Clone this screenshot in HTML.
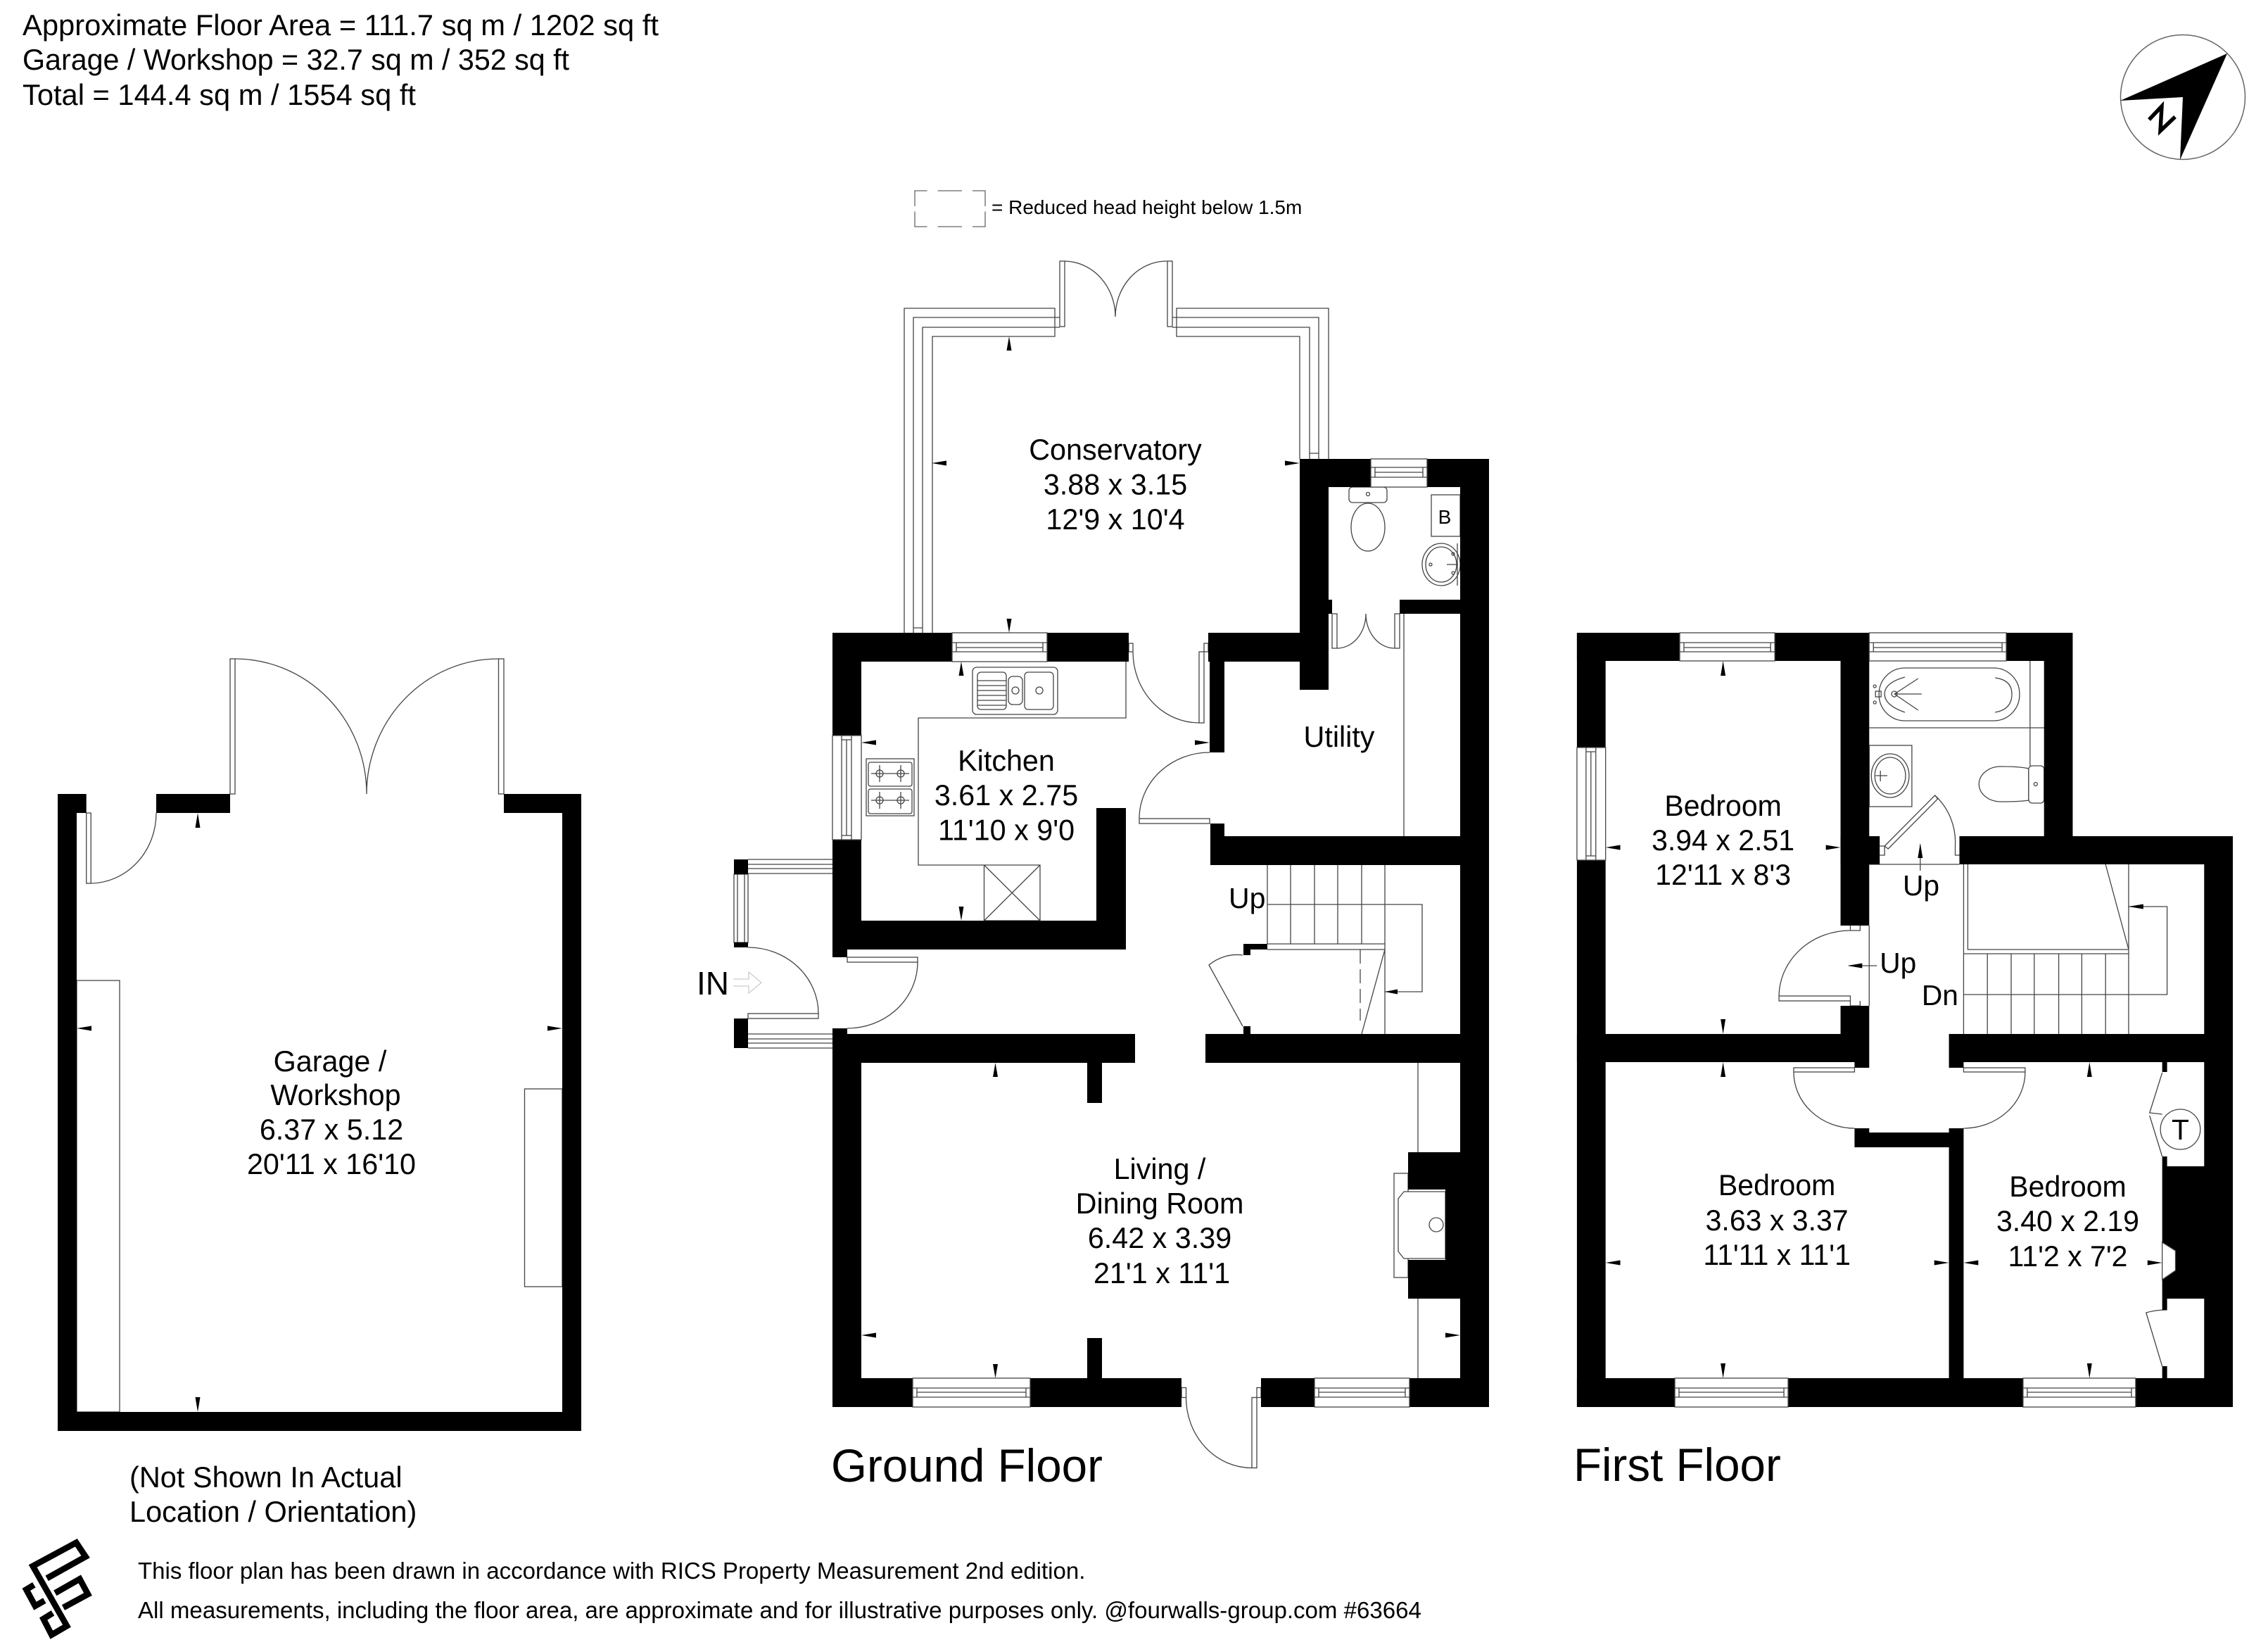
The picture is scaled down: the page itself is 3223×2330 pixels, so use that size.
<!DOCTYPE html>
<html><head><meta charset="utf-8"><style>
html,body{margin:0;padding:0;background:#fff}
svg{display:block}
text{font-family:"Liberation Sans",sans-serif;fill:#000}
.l{fill:none;stroke:#444;stroke-width:1.3}
.w{fill:#fff;stroke:#444;stroke-width:1.3}
.m{text-anchor:middle;font-size:41.3px}
.t{font-size:41.5px}
</style></head><body>
<svg xmlns="http://www.w3.org/2000/svg" width="3223" height="2330" viewBox="0 0 3223 2330">
<rect width="3223" height="2330" fill="#fff"/>

<!-- header -->
<text class="t" x="32" y="50" textLength="904" lengthAdjust="spacingAndGlyphs">Approximate Floor Area = 111.7 sq m / 1202 sq ft</text>
<text class="t" x="32" y="99" textLength="777" lengthAdjust="spacingAndGlyphs">Garage / Workshop = 32.7 sq m / 352 sq ft</text>
<text class="t" x="32" y="149" textLength="559" lengthAdjust="spacingAndGlyphs">Total = 144.4 sq m / 1554 sq ft</text>

<!-- compass -->
<circle cx="3102" cy="138" r="88.5" fill="none" stroke="#666" stroke-width="1.5"/>
<polygon points="3165,76 3013,143 3102,138 3098,227" fill="#000"/>
<polyline points="3054,170 3072,151 3070,186 3091,166" fill="none" stroke="#000" stroke-width="5.5"/>

<!-- legend -->
<path class="l" style="stroke:#666" d="M1300,293V271H1317.5M1332.6,271H1367M1382,271H1400V293M1400,300.5V322H1382M1367,322H1332.6M1317.5,322H1300V300.5"/>
<text x="1409" y="304" font-size="28">= Reduced head height below 1.5m</text>

<!-- conservatory frame -->
<path class="l" d="M1285,900V438H1499V478H1325V900M1298,900V451H1499M1311,900V465H1499
M1298,892H1311M1888,652V438H1672V478H1847V652M1874,652V451H1672M1861,652V465H1672M1861,644H1874
M1499,451V465M1672,451V465"/>
<rect class="w" x="1506" y="371" width="7" height="93"/>
<rect class="w" x="1659" y="371" width="7" height="93"/>
<path class="l" d="M1499,451H1506M1499,465H1506M1666,451H1672M1666,465H1672M1513,371A73,79 0 0 1 1585,450A73,79 0 0 1 1659,371"/>

<!-- kitchen fixtures -->
<path class="l" d="M1600,940V1020H1305V1229H1478M1398.5,1229H1478V1308H1398.5ZM1398.5,1229L1478,1308M1478,1229L1398.5,1308"/>
<rect class="l" x="1382" y="948" width="121" height="67" rx="6"/>
<rect class="l" x="1389" y="955" width="41" height="53" rx="5"/>
<rect class="l" x="1433" y="961" width="20" height="40" rx="6"/>
<rect class="l" x="1456" y="955" width="41" height="53" rx="5"/>
<path class="l" d="M1389,967H1430M1389,974H1430M1389,981H1430M1389,988H1430M1389,995H1430M1389,1002H1430"/>
<circle class="l" cx="1443" cy="981" r="5"/><circle class="l" cx="1477" cy="981" r="5"/>
<rect class="l" x="1231" y="1078" width="68" height="81"/>
<rect class="l" x="1234" y="1083" width="62" height="34" rx="3"/>
<rect class="l" x="1234" y="1121" width="62" height="35" rx="3"/>
<circle class="l" cx="1250" cy="1099" r="5"/><circle class="l" cx="1280" cy="1099" r="5"/>
<circle class="l" cx="1250" cy="1137" r="5"/><circle class="l" cx="1280" cy="1137" r="5"/>
<path class="l" d="M1238,1099H1292M1250,1087V1111M1280,1087V1111M1238,1137H1292M1250,1125V1149M1280,1125V1149"/>

<!-- conservatory/kitchen door -->
<rect class="w" x="1604" y="914" width="6" height="12"/>
<rect class="w" x="1711" y="914" width="6" height="12"/>
<rect class="w" x="1704" y="926" width="7" height="101"/>
<path class="l" d="M1610,926A94,101 0 0 0 1704,1027"/>
<!-- utility door -->
<rect class="w" x="1619" y="1163" width="100" height="7"/>
<path class="l" d="M1619,1163A100,94 0 0 1 1719,1069"/>
<!-- WC door -->
<rect class="w" x="1893" y="872" width="7" height="49"/>
<rect class="w" x="1982" y="872" width="7" height="49"/>
<path class="l" d="M1900,921A41,49 0 0 0 1941,872A41,49 0 0 0 1982,921M1995,872V1188"/>
<!-- WC fixtures -->
<rect class="l" x="1917" y="692" width="54" height="22" rx="5"/>
<ellipse class="l" cx="1944" cy="749" rx="24" ry="34"/>
<circle class="l" cx="1944" cy="702" r="2.5"/>
<rect class="l" x="2034" y="703" width="41" height="59"/>
<text x="2053" y="744" font-size="28" text-anchor="middle">B</text>
<ellipse class="l" cx="2048" cy="802" rx="27" ry="30"/>
<ellipse class="l" cx="2048" cy="802" rx="22" ry="25"/>
<circle class="l" cx="2065" cy="787" r="2"/><circle class="l" cx="2065" cy="814" r="2"/><circle class="l" cx="2033" cy="802" r="2"/>
<path class="l" d="M2056,802H2072M2071,772V832"/>

<!-- porch -->
<path class="l" d="M1063,1221H1183M1063,1241H1183M1063,1228H1183M1063,1234H1183M1063,1469H1183M1063,1489H1183M1063,1476H1183M1063,1482H1183"/>
<rect class="w" x="1043" y="1242" width="20" height="97"/>
<path class="l" d="M1048,1242V1339M1058,1242V1339"/>
<rect class="w" x="1063" y="1440" width="100" height="7"/>
<path class="l" d="M1063,1346A100,94 0 0 1 1163,1440"/>
<rect class="w" x="1204" y="1360" width="100" height="7"/>
<path class="l" d="M1304,1367A100,94 0 0 1 1204,1461"/>
<path d="M1042,1391H1064V1381L1082,1396L1064,1411V1401H1042" fill="none" stroke="#ccc" stroke-width="1.3"/>
<text x="990" y="1413" font-size="46">IN</text>

<!-- ground stairs -->
<path class="l" d="M1801,1228V1341M1834,1228V1341M1868,1228V1341M1901,1228V1341M1935,1228V1341M1968,1228V1469
M1801,1285H2021V1409H1968M1801,1341H1968M1801,1349H1968M1968,1349L1935,1469"/>
<path class="l" d="M1933,1349V1450" stroke-dasharray="20 8"/>
<path class="l" d="M1766,1357A62,62 0 0 0 1718,1371L1766,1458"/>

<!-- living fixtures -->
<path class="l" d="M2015,1510V1637M2015,1845V1958"/>
<rect class="w" x="1981" y="1667" width="20" height="148"/>
<path class="w" d="M2054,1693H1995L1987,1703V1778L1995,1788H2054Z"/>
<ellipse class="l" cx="2041" cy="1740" rx="10" ry="10"/>
<!-- front door -->
<rect class="w" x="1679" y="1971.5" width="6.5" height="14"/>
<rect class="w" x="1786" y="1971.5" width="6" height="14"/>
<rect class="w" x="1779" y="1985.5" width="7" height="100"/>
<path class="l" d="M1685.5,1985.5A93.5,100 0 0 0 1779,2085.5"/>

<!-- garage fixtures -->
<rect class="l" x="109" y="1393" width="61" height="613"/>
<rect class="l" x="745.5" y="1547" width="53.5" height="281"/>
<rect class="w" x="122.7" y="1155" width="6.5" height="100"/>
<path class="l" d="M129,1255A94,100 0 0 0 222,1155"/>
<rect class="w" x="327" y="936" width="7" height="192"/>
<rect class="w" x="708.5" y="936" width="7.5" height="192"/>
<path class="l" d="M334,936A187,192 0 0 1 521,1128A187,192 0 0 1 708.5,936"/>

<!-- ground + garage walls -->
<g fill="#000">
<rect x="82" y="1128" width="40.7" height="27"/><rect x="222" y="1128" width="105" height="27"/><rect x="716" y="1128" width="110" height="27"/>
<rect x="82" y="1128" width="27" height="905"/><rect x="799" y="1128" width="27" height="905"/><rect x="82" y="2006" width="744" height="27"/>

<rect x="1183" y="899" width="421" height="41"/><rect x="1183" y="899" width="41" height="450"/><rect x="1183" y="1308" width="417" height="41"/><rect x="1183" y="1349" width="21" height="11"/>
<rect x="1558" y="1148" width="42" height="160"/><rect x="1717" y="899" width="171" height="41"/><rect x="1719" y="940" width="21" height="129"/>
<rect x="1847" y="652" width="41" height="328"/><rect x="1847" y="652" width="269" height="40"/><rect x="1847" y="852" width="46" height="20"/><rect x="1989" y="852" width="127" height="20"/>
<rect x="2075" y="652" width="41" height="1347"/><rect x="1720" y="1188" width="396" height="41"/><rect x="1720" y="1170" width="20" height="18"/>
<rect x="1183" y="1469" width="430" height="41"/><rect x="1713" y="1469" width="403" height="41"/><rect x="1183" y="1461" width="21" height="8"/>
<rect x="1183" y="1510" width="41" height="489"/><rect x="1183" y="1958" width="496" height="41"/><rect x="1792" y="1958" width="324" height="41"/>
<rect x="1545" y="1510" width="21" height="57"/><rect x="1545" y="1901" width="21" height="57"/>
<rect x="2001" y="1637" width="115" height="53"/><rect x="2054" y="1690" width="62" height="100"/><rect x="2001" y="1790" width="115" height="55"/>
<rect x="1043" y="1221" width="20" height="21"/><rect x="1043" y="1339" width="20" height="7"/><rect x="1043" y="1447" width="20" height="42"/>
<rect x="1767" y="1341" width="34" height="8"/><rect x="1767" y="1349" width="10" height="8"/><rect x="1767" y="1458" width="10" height="11"/>
</g>

<!-- ground windows -->
<rect class="w" x="1353" y="899" width="135" height="41"/><path class="l" d="M1353,913H1488M1353,926H1488M1359,920H1482M1359,913V926M1482,913V926"/>
<rect class="w" x="1948" y="652" width="80" height="40"/><path class="l" d="M1948,664H2028M1948,678H2028M1954,671H2022M1954,664V678M2022,664V678"/>
<rect class="w" x="1297" y="1958" width="167" height="41"/><path class="l" d="M1297,1972H1464M1297,1985H1464M1303,1978H1458M1303,1972V1985M1458,1972V1985"/>
<rect class="w" x="1868" y="1958" width="135" height="41"/><path class="l" d="M1868,1972H2003M1868,1985H2003M1874,1978H1997M1874,1972V1985M1997,1972V1985"/>
<rect class="w" x="1183" y="1045" width="41" height="148"/><path class="l" d="M1196,1045V1193M1210,1045V1193M1203,1051V1187M1196,1051H1210M1196,1187H1210"/>

<!-- ground + garage arrowheads -->
<path fill="#000" d="
M281,1155l3.5,21h-7zM281,2006l3.5,-21h-7zM109,1461l21,-3.5v7zM799,1461l-21,-3.5v7z
M1434,478l3.5,20h-7zM1434,899l3.5,-20h-7zM1324,658l21,-3.5v7zM1847,658l-21,-3.5v7z
M1366,940l3.5,20h-7zM1366,1308l3.5,-20h-7zM1224,1055l21,-3.5v7zM1719,1055l-21,-3.5v7z
M1414.5,1510l3.5,20h-7zM1414.5,1958l3.5,-20h-7zM1224,1897l21,-3.5v7zM2075,1897l-21,-3.5v7z
M1968,1409l18,-3.5v7z"/>

<!-- ground + garage labels -->
<text class="m" x="1585" y="653">Conservatory</text>
<text class="m" x="1585" y="702.5">3.88 x 3.15</text>
<text class="m" x="1585" y="752">12'9 x 10'4</text>
<text class="m" x="1430" y="1095">Kitchen</text>
<text class="m" x="1430" y="1144">3.61 x 2.75</text>
<text class="m" x="1430" y="1193.5">11'10 x 9'0</text>
<text class="m" x="1903" y="1061">Utility</text>
<text class="m" x="1648" y="1675">Living /</text>
<text class="m" x="1648" y="1724">Dining Room</text>
<text class="m" x="1648" y="1773">6.42 x 3.39</text>
<text class="m" x="1651" y="1823">21'1 x 11'1</text>
<text x="1746" y="1290" font-size="41">Up</text>
<text class="m" x="469" y="1522">Garage /</text>
<text class="m" x="477" y="1570">Workshop</text>
<text class="m" x="471" y="1619">6.37 x 5.12</text>
<text class="m" x="471" y="1668">20'11 x 16'10</text>
<text x="184" y="2113" font-size="41.5">(Not Shown In Actual</text>
<text x="184" y="2162" font-size="41.5">Location / Orientation)</text>
<text x="1181" y="2105" font-size="65.5">Ground Floor</text>
<text x="2236" y="2104" font-size="65.5">First Floor</text>

<!-- FIRST FLOOR -->
<g transform="translate(2230,0) scale(.9937,1) translate(-2230,0)">
<rect class="l" x="2673" y="949" width="201" height="75" rx="37"/>
<path class="l" d="M2839,963Q2863,966 2863,986Q2863,1008 2839,1012M2710,962Q2681,970 2681,986Q2681,1002 2710,1012M2695,986H2734M2695,986L2729,964M2695,986L2729,1009M2659,1034H2909M2889,939V1088"/>
<circle class="l" cx="2695" cy="986" r="4"/><circle class="l" cx="2667" cy="975" r="2"/><circle class="l" cx="2667" cy="998" r="2"/>
<rect class="l" x="2668" y="982" width="8" height="8"/>
<rect class="l" x="2659" y="1059" width="61" height="87"/>
<ellipse class="l" cx="2689" cy="1102" rx="27" ry="31"/>
<ellipse class="l" cx="2689" cy="1102" rx="22" ry="26"/>
<path class="l" d="M2668,1102H2685M2675,1095V1110"/>
<rect class="l" x="2887" y="1088" width="22" height="53" rx="5"/>
<path class="l" d="M2887,1092V1137Q2875,1139 2847,1139A31,25 0 0 1 2847,1089Q2875,1089 2887,1092"/>
<circle class="l" cx="2897" cy="1114" r="2.5"/>
<path class="l" d="M2674,1202H2681V1215H2674M2782,1201V1215H2788M2753,1130A90,90 0 0 1 2782,1201"/>
<path class="w" d="M2753,1130L2757,1135L2686,1206L2681,1202Z"/>
<path class="l" d="M2659,1228H2788M2659,1315V1429"/>
<rect class="w" x="2530" y="1415" width="102" height="7"/>
<path class="l" d="M2632,1315V1322H2646V1315M2632,1422V1429H2646V1422M2530,1415A102,94 0 0 1 2632,1322"/>
<path class="l" d="M2794,1228V1469M2800,1228V1349H3030M2794,1355H3030M2828,1355V1469M2862,1355V1469M2895,1355V1469M2930,1355V1469M2963,1355V1469M2997,1355V1469M3030,1228V1469
M2997,1228L3030,1349M2794,1413H3085V1288H3030M2732,1237V1200M2670,1372H2630"/>
<rect class="w" x="2551" y="1517" width="87" height="6"/>
<rect class="w" x="2794" y="1517" width="88" height="6"/>
<path class="l" d="M2551,1523A87,80 0 0 0 2638,1603M2882,1523A88,80 0 0 1 2794,1603"/>
<path class="l" d="M3078,1524L3060,1581L3078,1583M3060,1585L3078,1643M3085,1861Q3068,1861 3055,1865L3078,1941"/>
<circle class="l" cx="3104" cy="1604.5" r="28.5"/>
<text x="3104" y="1619" font-size="41" text-anchor="middle">T</text>

<g fill="#000">
<rect x="2241" y="899" width="709" height="40"/><rect x="2241" y="899" width="41" height="1100"/><rect x="2618" y="939" width="41" height="376"/><rect x="2618" y="1188" width="56" height="40"/>
<rect x="2909" y="939" width="41" height="249"/><rect x="2788" y="1188" width="391" height="40"/><rect x="3138" y="1188" width="41" height="469"/><rect x="3138" y="1845" width="41" height="154"/>
<rect x="3078" y="1657" width="101" height="188"/>
<rect x="2618" y="1429" width="41" height="40"/><rect x="2241" y="1469" width="418" height="40"/><rect x="2773" y="1469" width="406" height="40"/>
<rect x="2638" y="1509" width="21" height="8"/><rect x="2773" y="1509" width="21" height="8"/><rect x="2638" y="1603" width="21" height="6"/><rect x="2773" y="1603" width="21" height="6"/>
<rect x="2638" y="1609" width="156" height="21"/><rect x="2773" y="1630" width="21" height="328"/><rect x="2241" y="1958" width="938" height="41"/>
<rect x="3078" y="1509" width="7" height="14"/><rect x="3078" y="1643" width="7" height="14"/><rect x="3078" y="1845" width="7" height="16"/><rect x="3078" y="1941" width="7" height="17"/>
</g>
<polygon class="w" points="3078,1765 3097,1777 3097,1805 3078,1818"/>

<rect class="w" x="2388" y="899" width="136" height="40"/><path class="l" d="M2388,913H2524M2388,926H2524M2394,920H2518M2394,913V926M2518,913V926"/>
<rect class="w" x="2659" y="899" width="196" height="40"/><path class="l" d="M2659,913H2855M2659,926H2855M2665,920H2849M2665,913V926M2849,913V926"/>
<rect class="w" x="2241" y="1062" width="41" height="160"/><path class="l" d="M2254,1062V1222M2268,1062V1222M2261,1068V1216M2254,1068H2268M2254,1216H2268"/>
<rect class="w" x="2381" y="1958" width="162" height="41"/><path class="l" d="M2381,1972H2543M2381,1985H2543M2387,1978H2537M2387,1972V1985M2537,1972V1985"/>
<rect class="w" x="2879" y="1958" width="161" height="41"/><path class="l" d="M2879,1972H3040M2879,1985H3040M2885,1978H3034M2885,1972V1985M3034,1972V1985"/>

<path fill="#000" d="
M2450,939l3.5,21h-7zM2450,1469l3.5,-21h-7zM2282,1204l21,-3.5v7zM2618,1204l-21,-3.5v7z
M2450,1509l3.5,21h-7zM2450,1958l3.5,-21h-7zM2282,1794l21,-3.5v7zM2773,1794l-21,-3.5v7z
M2974,1509l3.5,21h-7zM2974,1958l3.5,-21h-7zM2794,1794l21,-3.5v7zM3078,1794l-21,-3.5v7z
M2732,1198l3.5,21h-7zM2628,1372l21,-3.5v7zM3030,1288l21,-3.5v7z"/>

<text class="m" x="2450" y="1159">Bedroom</text>
<text class="m" x="2450" y="1208">3.94 x 2.51</text>
<text class="m" x="2450" y="1257">12'11 x 8'3</text>
<text class="m" x="2527" y="1698">Bedroom</text>
<text class="m" x="2527" y="1748">3.63 x 3.37</text>
<text class="m" x="2527" y="1797">11'11 x 11'1</text>
<text class="m" x="2943" y="1700">Bedroom</text>
<text class="m" x="2943" y="1749">3.40 x 2.19</text>
<text class="m" x="2943" y="1799">11'2 x 7'2</text>
<text x="2707" y="1272" font-size="41">Up</text>
<text x="2674" y="1382" font-size="41">Up</text>
<text x="2734" y="1428" font-size="41">Dn</text>
</g>

<!-- logo -->
<g transform="translate(0,2150) scale(.3333)" fill="none" stroke="#000" stroke-width="26" stroke-linejoin="miter">
<polyline points="200,277 365,185 325,125 140,225 285,480 220,518 185,450 225,425"/>
<polyline points="235,340 340,280 375,345 270,402"/>
<polyline points="145,305 112,325 150,395 190,372"/>
</g>
<text x="196" y="2243" font-size="33">This floor plan has been drawn in accordance with RICS Property Measurement 2nd edition.</text>
<text x="196" y="2299" font-size="33.05">All measurements, including the floor area, are approximate and for illustrative purposes only. @fourwalls-group.com #63664</text>
</svg>
</body></html>
